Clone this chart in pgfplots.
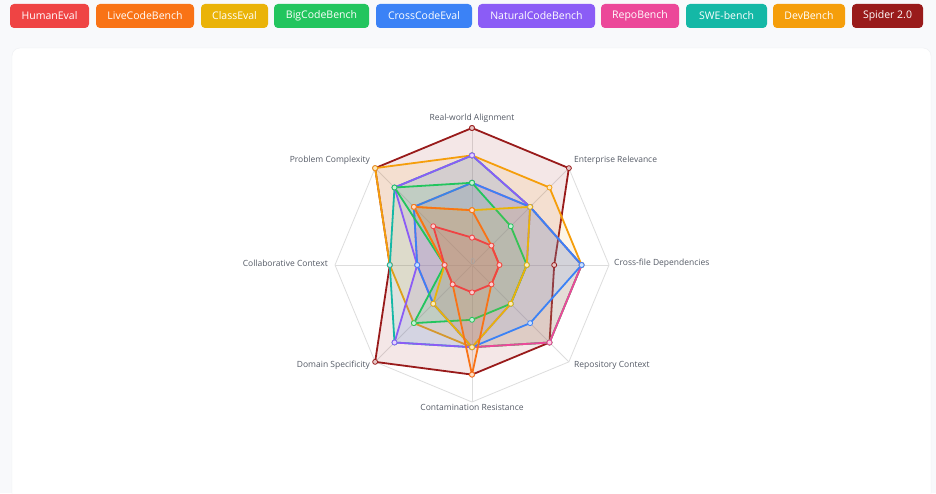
\documentclass[border=0pt]{standalone}
\usepackage{pgfplots}
\pgfplotsset{compat=1.18}
\usepgfplotslibrary{polar}
\usepackage{fontspec}
\setmainfont{Open Sans}

\definecolor{cHE}{HTML}{EF4444}
\definecolor{cLCB}{HTML}{F97316}
\definecolor{cCE}{HTML}{EAB308}
\definecolor{cBCB}{HTML}{22C55E}
\definecolor{cCCE}{HTML}{3B82F6}
\definecolor{cNCB}{HTML}{8B5CF6}
\definecolor{cRB}{HTML}{EC4899}
\definecolor{cSWE}{HTML}{14B8A6}
\definecolor{cDB}{HTML}{F59E0B}
\definecolor{cSP}{HTML}{991B1B}
\definecolor{bgc}{HTML}{F8F9FB}
\definecolor{cardb}{HTML}{EEF0F3}
\definecolor{gridc}{HTML}{DDDDDD}
\definecolor{labc}{HTML}{555B66}

\pgfplotsset{
  bench/.style={draw=#1, line width=1.8pt, line join=round,
    fill=#1, fill opacity=0.1, draw opacity=1,
    mark=*, mark size=2.5pt,
    mark options={solid, fill=#1!25, fill opacity=1, draw=#1, line width=0.8pt}},
}

\newcommand\btn[4]{%
  \fill[#1, rounded corners=4pt] (#2,465) rectangle (#3,489);
  \node[text=white, font=\fontsize{10.5}{12}\selectfont, inner sep=0pt] at ({(#2+#3)/2},477) {#4};}

\begin{document}
\begin{tikzpicture}[x=1pt,y=1pt]
\useasboundingbox (0,0) rectangle (936,493);
\fill[bgc] (0,0) rectangle (936,493);
\begin{scope}
  \clip (0,0) rectangle (936,493);
  \filldraw[fill=white, draw=cardb, rounded corners=8pt] (12,-20) rectangle (931,445);
\end{scope}

\btn{cHE}{10}{89}{HumanEval}
\btn{cLCB}{96}{194}{LiveCodeBench}
\btn{cCE}{201}{268}{ClassEval}
\btn{cBCB}{274}{369}{BigCodeBench}
\btn{cCCE}{376}{472}{CrossCodeEval}
\btn{cNCB}{478}{595}{NaturalCodeBench}
\btn{cRB}{601}{679}{RepoBench}
\btn{cSWE}{686}{767}{SWE-bench}
\btn{cDB}{773}{845}{DevBench}
\btn{cSP}{852}{923}{Spider 2.0}

\begin{polaraxis}[
    at={(472pt,228pt)}, anchor=origin,
    width=274pt, height=274pt, scale only axis,
    xmin=0, xmax=360, ymin=0, ymax=100,
    hide axis, clip=false,
  ]
  % grid: outer octagon and spokes
  \addplot[gridc, line width=0.8pt, mark=none] coordinates {
    (90,100) (45,100) (0,100) (-45,100) (-90,100) (-135,100) (180,100) (135,100) (90,100)};
  \addplot[gridc, line width=0.8pt, mark=none] coordinates {(90,100) (-90,100)};
  \addplot[gridc, line width=0.8pt, mark=none] coordinates {(45,100) (-135,100)};
  \addplot[gridc, line width=0.8pt, mark=none] coordinates {(0,100) (180,100)};
  \addplot[gridc, line width=0.8pt, mark=none] coordinates {(-45,100) (135,100)};

  % order of axes: Real-world, Enterprise, Cross-file, Repository,
  % Contamination, Domain, Collaborative, Problem Complexity
  % Spider 2.0
  \addplot[bench=cSP] coordinates {
    (90,100) (45,100) (0,60) (-45,80) (-90,80) (-135,100) (180,60) (135,100) (90,100)};
  % DevBench
  \addplot[bench=cDB] coordinates {
    (90,80) (45,80) (0,80) (-45,80) (-90,60) (-135,60) (180,60) (135,100) (90,80)};
  % SWE-bench
  \addplot[bench=cSWE] coordinates {
    (90,80) (45,60) (0,80) (-45,80) (-90,60) (-135,80) (180,60) (135,80) (90,80)};
  % RepoBench
  \addplot[bench=cRB] coordinates {
    (90,60) (45,60) (0,80) (-45,80) (-90,60) (-135,40) (180,40) (135,60) (90,60)};
  % NaturalCodeBench
  \addplot[bench=cNCB] coordinates {
    (90,80) (45,60) (0,40) (-45,40) (-90,60) (-135,80) (180,40) (135,80) (90,80)};
  % CrossCodeEval
  \addplot[bench=cCCE] coordinates {
    (90,60) (45,60) (0,80) (-45,60) (-90,60) (-135,40) (180,40) (135,60) (90,60)};
  % BigCodeBench
  \addplot[bench=cBCB] coordinates {
    (90,60) (45,40) (0,40) (-45,40) (-90,40) (-135,60) (180,20) (135,80) (90,60)};
  % ClassEval
  \addplot[bench=cCE] coordinates {
    (90,40) (45,60) (0,40) (-45,40) (-90,60) (-135,40) (180,20) (135,60) (90,40)};
  % LiveCodeBench
  \addplot[bench=cLCB] coordinates {
    (90,40) (45,20) (0,20) (-45,20) (-90,80) (-135,20) (180,20) (135,60) (90,40)};
  % HumanEval
  \addplot[bench=cHE] coordinates {
    (90,20) (45,20) (0,20) (-45,20) (-90,20) (-135,20) (180,20) (135,40) (90,20)};
\end{polaraxis}

\node[text=gray!70, font=\fontsize{8}{9}\selectfont, inner sep=0pt] at (473,231) {0};

\begin{scope}[every node/.style={text=labc, font=\fontsize{8.5}{10}\selectfont, inner sep=0pt}]
  \node[anchor=center] at (472,375) {Real-world Alignment};
  \node[anchor=west] at (574,333) {Enterprise Relevance};
  \node[anchor=west] at (614,230) {Cross-file Dependencies};
  \node[anchor=west] at (574,128) {Repository Context};
  \node[anchor=center] at (472,86) {Contamination Resistance};
  \node[anchor=east] at (370,128) {Domain Specificity};
  \node[anchor=east] at (328,230) {Collaborative Context};
  \node[anchor=east] at (370,333) {Problem Complexity};
\end{scope}
\end{tikzpicture}
\end{document}
